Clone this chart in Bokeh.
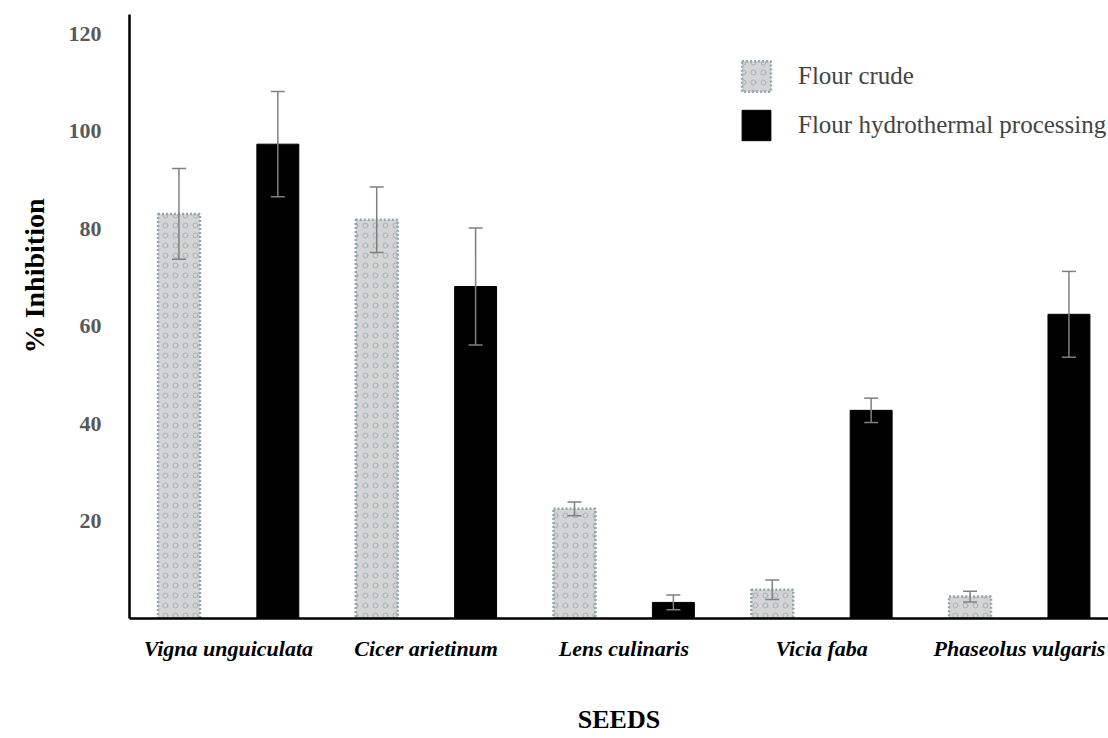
from bokeh.plotting import figure
from bokeh.models import ColumnDataSource, Range1d, Whisker, TeeHead, Legend, LegendItem, Title, FixedTicker
from bokeh.embed import file_html
from bokeh.resources import INLINE

seeds = ["Vigna unguiculata", "Cicer arietinum", "Lens culinaris", "Vicia faba", "Phaseolus vulgaris"]
crude = [83.0, 81.8, 22.5, 5.9, 4.5]
crude_err = [9.3, 6.7, 1.4, 2.0, 1.1]
hydro = [97.3, 68.1, 3.3, 42.7, 62.4]
hydro_err = [10.8, 12.0, 1.5, 2.5, 8.8]
y_ticks = [20, 40, 60, 80, 100, 120]

FONT = "Liberation Serif"
centers = [i + 0.5 for i in range(len(seeds))]
off = 0.25
bw = 0.212

src_c = ColumnDataSource(dict(x=[c - off for c in centers], top=crude,
                              lo=[v - e for v, e in zip(crude, crude_err)],
                              hi=[v + e for v, e in zip(crude, crude_err)]))
src_h = ColumnDataSource(dict(x=[c + off for c in centers], top=hydro,
                              lo=[v - e for v, e in zip(hydro, hydro_err)],
                              hi=[v + e for v, e in zip(hydro, hydro_err)]))

W, H = 1108, 738
p = figure(width=W, height=H, output_backend="svg", toolbar_location=None,
           x_range=Range1d(0, 4.95), y_range=Range1d(0, 123.9),
           min_border_left=128, min_border_right=0, min_border_top=14, min_border_bottom=120)
p.outline_line_color = None
p.xgrid.visible = False
p.ygrid.visible = False

r_c = p.vbar(x="x", top="top", width=bw, source=src_c, fill_color="#d4d4d4",
             line_color="#8fa8b0", line_width=2.5, line_dash="2 2",
             hatch_pattern="ring", hatch_color="#7fa0a8", hatch_alpha=0.6,
             hatch_scale=10, hatch_weight=1)
r_h = p.vbar(x="x", top="top", width=bw, source=src_h, fill_color="black",
             line_color="black")

for s in (src_c, src_h):
    w = Whisker(base="x", lower="lo", upper="hi", source=s, line_color="#808080",
                line_width=1.5, level="overlay",
                upper_head=TeeHead(size=14, line_color="#808080", line_width=1.5),
                lower_head=TeeHead(size=14, line_color="#808080", line_width=1.5))
    p.add_layout(w)

# axes
p.xaxis.ticker = FixedTicker(ticks=centers)
p.xaxis.major_label_overrides = {c: s for c, s in zip(centers, seeds)}
p.xaxis.major_label_text_font = FONT
p.xaxis.major_label_text_font_style = "bold italic"
p.xaxis.major_label_text_font_size = "22px"
p.xaxis.major_label_text_color = "black"
p.xaxis.major_label_standoff = 17
p.xaxis.major_tick_out = 0
p.xaxis.major_tick_in = 0
p.xaxis.major_tick_line_color = None
p.xaxis.minor_tick_line_color = None
p.xaxis.axis_line_width = 2.5
p.xaxis.axis_line_color = "black"
p.xaxis.axis_label = "SEEDS"
p.xaxis.axis_label_text_font = FONT
p.xaxis.axis_label_text_font_style = "bold"
p.xaxis.axis_label_text_font_size = "26px"
p.xaxis.axis_label_text_color = "black"
p.xaxis.axis_label_standoff = 41

p.yaxis.ticker = FixedTicker(ticks=y_ticks)
p.yaxis.major_label_text_font = FONT
p.yaxis.major_label_text_font_style = "bold"
p.yaxis.major_label_text_font_size = "22px"
p.yaxis.major_label_text_color = "#595959"
p.yaxis.major_label_standoff = 28
p.yaxis.major_tick_out = 0
p.yaxis.major_tick_in = 0
p.yaxis.major_tick_line_color = None
p.yaxis.minor_tick_line_color = None
p.yaxis.axis_line_width = 2.5
p.yaxis.axis_line_color = "black"

ytitle = Title(text="% Inhibition", align="right", offset=184, standoff=32,
               text_font=FONT, text_font_style="bold", text_font_size="28px",
               text_color="black")
p.add_layout(ytitle, "left")

legend = Legend(items=[LegendItem(label="Flour crude", renderers=[r_c]),
                       LegendItem(label="Flour hydrothermal processing", renderers=[r_h])],
                location=(609, 474), padding=0, margin=0, spacing=11,
                glyph_width=36, glyph_height=38, label_height=38,
                label_text_font=FONT, label_text_font_size="25px",
                label_standoff=24, border_line_color=None, background_fill_alpha=0)
p.add_layout(legend)

open("out.html", "w").write(file_html(p, INLINE))
